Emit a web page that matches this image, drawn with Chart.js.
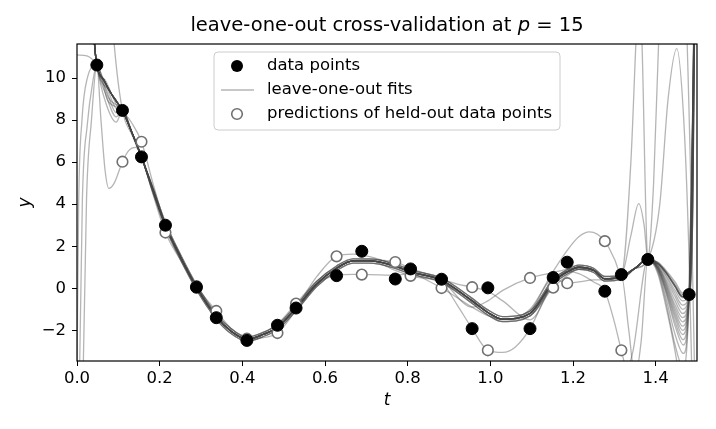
<!DOCTYPE html>
<html>
<head>
<meta charset="utf-8">
<script src="https://cdn.jsdelivr.net/npm/chart.js@4.4.0/dist/chart.umd.min.js"></script>
<style>
  html, body { margin: 0; padding: 0; background: #fff; }
  #wrap { width: 716px; height: 429px; }
</style>
</head>
<body>
<div id="wrap"><canvas id="loo" width="716" height="429"></canvas></div>
<script>
// observed samples
const dataT = [0.048, 0.110, 0.156, 0.214, 0.289, 0.337, 0.411, 0.485, 0.530, 0.628, 0.689, 0.770,
               0.807, 0.882, 0.956, 0.994, 1.096, 1.152, 1.186, 1.277, 1.317, 1.381, 1.481]
const dataY = [10.62, 8.46, 6.25, 3.0, 0.05, -1.40, -2.48, -1.76, -0.94, 0.60, 1.76, 0.44,
               0.92, 0.43, -1.92, 0.02, -1.92, 0.51, 1.24, -0.14, 0.65, 1.37, -0.30]

// predictions of the held-out points (the ones that land inside the view)
const predT = [0.110, 0.156, 0.214, 0.289, 0.337, 0.411, 0.485, 0.530, 0.628, 0.689, 0.770,
               0.807, 0.882, 0.956, 0.994, 1.096, 1.152, 1.186, 1.277, 1.317, 1.381]
const predY = [6.02, 6.97, 2.65, 0.1, -1.08, -2.4, -2.13, -0.73, 1.52, 0.65, 1.25,
               0.59, 0.01, 0.05, -2.95, 0.49, 0.03, 0.24, 2.24, -2.95, 1.37]

const xTicks = [0, 0.2, 0.4, 0.6, 0.8, 1.0, 1.2, 1.4]
const yTicks = [-2, 0, 2, 4, 6, 8, 10]

// the path most of the fits share
const fitT = [0, 0.01, 0.02, 0.03, 0.042, 0.048, 0.065, 0.08, 0.095, 0.110, 0.133, 0.156,
              0.185, 0.214, 0.25, 0.289, 0.337, 0.37, 0.411, 0.45, 0.485, 0.53, 0.58, 0.628,
              0.668, 0.708, 0.77, 0.807, 0.882, 0.956, 0.994, 1.03, 1.096, 1.152, 1.186, 1.214,
              1.25, 1.277, 1.317, 1.35, 1.381, 1.405, 1.423, 1.447, 1.465, 1.481, 1.492, 1.5]
const fitBase = [30, 24, 19, 15.5, 11.7, 10.62, 9.9, 9.35, 8.9, 8.46, 7.4, 6.25,
                 4.6, 3.0, 1.5, 0.05, -1.35, -2.0, -2.42, -2.2, -1.85, -0.95, 0.2, 0.95,
                 1.3, 1.3, 1.05, 0.78, 0.38, -0.6, -1.15, -1.47, -1.2, 0.3, 0.78, 1.0,
                 0.85, 0.45, 0.52, 0.95, 1.37, 1.17, 0.8, 0.1, -0.4, -0.3, 11.6, 25]

// upper and lower edges of the bundle between t = 0.185 and 1.35
const bandT = [0.185, 0.214, 0.25, 0.289, 0.337, 0.37, 0.411, 0.45, 0.485, 0.53, 0.58, 0.628, 0.668,
               0.708, 0.77, 0.807, 0.882, 0.956, 0.994, 1.03, 1.096, 1.152, 1.186, 1.214, 1.25, 1.277,
               1.317, 1.35]
const bandHi = [4.72, 3.12, 1.62, 0.17, -1.23, -1.88, -2.32, -2.1, -1.74, -0.83, 0.32, 1.06, 1.4,
                1.4, 1.15, 0.88, 0.48, -0.48, -1.03, -1.35, -1.08, 0.42, 0.88, 1.1, 0.95, 0.56,
                0.61, 0.95]
const bandLo = [4.48, 2.88, 1.38, -0.07, -1.47, -2.12, -2.52, -2.3, -1.96, -1.07, 0.08, 0.84, 1.2,
                1.2, 0.95, 0.68, 0.28, -0.72, -1.27, -1.59, -1.32, 0.18, 0.68, 0.9, 0.75, 0.34,
                0.43, 0.95]

// pieces where single fits leave the bundle, [t, y]
const pieces = {
  lTop:    [[0, 11.1], [0.024, 11.05], [0.048, 10.62]],
  lRiseA:  [[0, -4], [0.004, 4], [0.012, 8], [0.025, 10], [0.048, 10.62], [0.075, 9.1], [0.110, 8.46]],
  lRiseB:  [[0, -12], [0.013, 4.2], [0.025, 7.8], [0.038, 9.8], [0.048, 10.62], [0.075, 8.9], [0.110, 8.46]],
  lDip:    [[0, -20], [0.023, 4.2], [0.035, 8], [0.048, 10.62], [0.058, 8], [0.068, 5.6], [0.077, 4.75],
            [0.09, 5.0], [0.110, 6.02], [0.125, 6.55], [0.142, 6.7], [0.156, 6.3], [0.185, 4.6]],
  lHigh:   [[0, 30], [0.075, 16], [0.09, 11.6], [0.110, 8.45], [0.133, 7.3], [0.156, 6.2]],
  l156:    [[0.048, 10.62], [0.08, 9.35], [0.110, 8.46], [0.133, 7.85], [0.156, 6.97], [0.185, 4.9], [0.214, 3.0]],
  lFanA:   [[0.048, 10.62], [0.07, 8.8], [0.095, 7.9], [0.110, 8.46]],
  lFanB:   [[0.048, 10.62], [0.07, 9.2], [0.095, 8.15], [0.110, 8.46]],
  lFanC:   [[0.048, 10.62], [0.07, 9.5], [0.095, 8.35], [0.110, 8.46]],
  lFanD:   [[0.048, 10.62], [0.07, 9.7], [0.095, 8.55], [0.110, 8.46]],
  lFanE:   [[0.048, 10.62], [0.07, 9.85], [0.095, 8.75], [0.110, 8.46]],
  m213:    [[0.156, 6.3], [0.185, 4.4], [0.214, 2.65], [0.25, 1.35], [0.289, 0.05]],
  m337:    [[0.289, 0.1], [0.337, -1.08], [0.37, -1.85], [0.411, -2.4]],
  m485:    [[0.411, -2.45], [0.45, -2.35], [0.485, -2.13], [0.53, -1.05], [0.58, 0.15]],
  m530:    [[0.45, -2.15], [0.485, -1.7], [0.53, -0.73], [0.58, 0.35], [0.628, 1.0]],
  m628:    [[0.53, -0.9], [0.58, 0.55], [0.628, 1.52], [0.668, 1.62], [0.708, 1.5], [0.77, 1.1], [0.807, 0.8]],
  m689:    [[0.58, 0.2], [0.628, 0.62], [0.668, 0.66], [0.708, 0.65], [0.77, 0.62], [0.807, 0.7], [0.882, 0.35]],
  m770:    [[0.668, 1.3], [0.708, 1.35], [0.77, 1.25], [0.807, 0.95], [0.882, 0.4]],
  m807:    [[0.708, 1.3], [0.77, 0.85], [0.807, 0.59], [0.882, 0.3], [0.956, -0.6]],
  m882:    [[0.77, 1.0], [0.807, 0.75], [0.882, 0.01], [0.956, -0.9], [0.994, -1.3]],
  m956:    [[0.807, 0.8], [0.882, 0.42], [0.92, 0.2], [0.956, 0.05], [0.994, -0.15], [1.03, -0.6],
            [1.096, -1.5], [1.152, 0.2]],
  m994:    [[0.882, 0.3], [0.92, -0.8], [0.956, -1.92], [0.994, -2.95], [1.03, -3.05], [1.06, -2.8],
            [1.096, -1.92], [1.152, 0.3]],
  m1096:   [[0.882, 0.35], [0.956, -0.9], [0.994, -0.6], [1.03, -0.1], [1.096, 0.49], [1.152, 0.75],
            [1.186, 0.9], [1.214, 0.95]],
  m1152:   [[1.03, -1.5], [1.096, -1.3], [1.152, 0.03], [1.186, 0.6], [1.214, 0.9]],
  m1186:   [[1.096, -1.1], [1.152, 0.45], [1.186, 0.24], [1.214, 0.3], [1.25, 0.4], [1.277, 0.4]],
  m1277:   [[1.096, -1.0], [1.152, 0.8], [1.186, 1.8], [1.214, 2.45], [1.24, 2.68], [1.277, 2.24],
            [1.30, 1.4], [1.317, 0.65], [1.35, 0.95], [1.381, 1.37]],
  m1317:   [[1.186, 0.8], [1.214, 0.7], [1.25, 0.3], [1.277, -0.14], [1.30, -1.6], [1.317, -2.95],
            [1.33, -3.8], [1.345, -3.0], [1.381, 1.37]],
  hi:      bandT.map((t, i) => [t, bandHi[i]]),
  lo:      bandT.map((t, i) => [t, bandLo[i]]),
  rPeak:   [[1.277, 0.45], [1.317, 0.6], [1.34, 2.5], [1.359, 4.03], [1.372, 3.0], [1.381, 1.37]],
  rSpike:  [[1.277, 0.45], [1.317, 0.6], [1.34, 6], [1.352, 11.6], [1.36, 15], [1.367, 11.6], [1.381, 1.37]],
  rHole:   [[1.277, 0.45], [1.317, 0.6], [1.335, -2], [1.35, -4.2], [1.365, -2.5], [1.381, 1.37]],
  rUp:     [[1.381, 1.37], [1.395, 5], [1.407, 11.6], [1.43, 20], [1.47, 15], [1.485, 5], [1.5, -10]],
  rTall:   [[1.381, 1.37], [1.41, 4], [1.43, 9], [1.451, 11.4], [1.468, 8], [1.48, 2], [1.49, -6], [1.5, -20]],
  f0a:     [[1.381, 1.37], [1.405, 1.22], [1.423, 0.85], [1.447, 0.2], [1.465, -0.3], [1.481, -0.3], [1.49, 4], [1.5, 25]],
  f0b:     [[1.381, 1.37], [1.405, 1.18], [1.423, 0.78], [1.447, 0.05], [1.465, -0.45], [1.481, -0.3], [1.49, 4], [1.5, 25]],
  f0c:     [[1.381, 1.37], [1.405, 1.25], [1.423, 0.9], [1.447, 0.3], [1.463, -0.2], [1.481, -0.3], [1.49, 4], [1.5, 25]],
  f1:      [[1.381, 1.37], [1.405, 1.2], [1.423, 0.7], [1.447, -0.1], [1.465, -0.6], [1.481, -0.3], [1.49, 5], [1.5, 25]],
  f1b:     [[1.381, 1.37], [1.405, 1.15], [1.423, 0.62], [1.447, -0.25], [1.465, -0.8], [1.481, -0.3], [1.49, 5], [1.5, 25]],
  f2:      [[1.381, 1.37], [1.405, 1.1], [1.423, 0.5], [1.447, -0.4], [1.465, -1.0], [1.481, -0.3], [1.49, 6], [1.5, 25]],
  f2b:     [[1.381, 1.37], [1.405, 1.08], [1.423, 0.42], [1.447, -0.6], [1.465, -1.2], [1.481, -0.3], [1.49, 6], [1.5, 25]],
  f3:      [[1.381, 1.37], [1.405, 1.05], [1.423, 0.35], [1.447, -0.8], [1.465, -1.4], [1.481, -0.3], [1.49, 6], [1.5, 25]],
  f3b:     [[1.381, 1.37], [1.405, 1.02], [1.423, 0.28], [1.447, -0.95], [1.465, -1.6], [1.481, -0.3], [1.49, 7], [1.5, 25]],
  f4:      [[1.381, 1.37], [1.405, 1.0], [1.423, 0.2], [1.447, -1.1], [1.465, -1.8], [1.481, -0.3], [1.49, 7], [1.5, 25]],
  f4b:     [[1.381, 1.37], [1.405, 0.98], [1.423, 0.12], [1.447, -1.25], [1.465, -2.0], [1.481, -0.3], [1.49, 7], [1.5, 25]],
  f5:      [[1.381, 1.37], [1.405, 0.95], [1.423, 0.05], [1.447, -1.4], [1.465, -2.2], [1.481, -0.3], [1.49, 8], [1.5, 25]],
  f5b:     [[1.381, 1.37], [1.405, 0.92], [1.423, -0.02], [1.447, -1.6], [1.466, -2.45], [1.481, -0.3], [1.49, 8], [1.5, 25]],
  f6:      [[1.381, 1.37], [1.405, 0.9], [1.423, -0.1], [1.447, -1.8], [1.467, -2.7], [1.481, -0.3], [1.49, 8], [1.5, 25]],
  f7:      [[1.381, 1.37], [1.405, 0.85], [1.423, -0.3], [1.447, -2.2], [1.467, -3.1], [1.481, -0.3], [1.49, 9], [1.5, 25]],
  f8:      [[1.381, 1.37], [1.405, 0.8], [1.423, -0.5], [1.447, -2.7], [1.467, -3.8], [1.481, -0.3], [1.49, 9], [1.5, 25]],
  f9:      [[1.381, 1.37], [1.405, 0.7], [1.423, -0.7], [1.447, -3], [1.47, -6], [1.5, -12]]
}

// one entry per leave-one-out fit: which pieces it takes instead of the bundle
const fitParts = [
  ['lTop', 'm213', 'f1'], ['lRiseA', 'm337', 'f2'], ['lRiseB', 'm485', 'f3'],
  ['lDip', 'm530', 'f4'], ['lHigh', 'm628', 'f5'], ['l156', 'm689', 'f6'],
  ['lFanA', 'm770', 'f7'], ['lFanB', 'm807', 'f8'], ['lFanC', 'm882', 'f9'],
  ['lFanD', 'm956', 'rPeak'], ['lFanE', 'm994', 'rSpike'], ['m1096', 'rHole'],
  ['m1152', 'rUp'], ['m1186', 'rTall'], ['m1277', 'f0a'], ['m1317', 'f0b'],
  ['hi', 'f0c'], ['lo', 'f2b'], ['hi', 'f3b'], [], ['lo', 'f1b'], ['hi', 'f4b'], ['lo', 'f5b']
]

function buildFit(names) {
  const segs = names.map(n => pieces[n])
  let pts = []
  fitT.forEach((t, i) => {
    const covered = segs.some(s => t >= s[0][0] && t <= s[s.length - 1][0])
    if (!covered) pts.push({x: t, y: fitBase[i]})
  })
  segs.forEach(s => s.forEach(p => pts.push({x: p[0], y: p[1]})))
  pts.sort((a, b) => a.x - b.x)
  return pts.filter((p, i) => i === 0 || p.x !== pts[i - 1].x)
}

const FONT = "'DejaVu Sans', sans-serif"
const FIT_COLOR = 'rgba(70,70,70,0.4)'

const fitSets = fitParts.map(names => ({
  type: 'line',
  data: buildFit(names),
  borderColor: FIT_COLOR,
  borderWidth: 1.3,
  pointRadius: 0,
  fill: false,
  cubicInterpolationMode: 'monotone'
}))

const framePlugin = {
  id: 'frame',
  afterDatasetsDraw(chart) {
    const {ctx, chartArea: a} = chart
    ctx.save()
    ctx.strokeStyle = '#000'
    ctx.lineWidth = 1.2
    ctx.strokeRect(a.left, a.top, a.right - a.left, a.bottom - a.top)

    // legend box
    const bx = 214, by = 52, bw = 346, bh = 78, r = 4
    ctx.beginPath()
    ctx.moveTo(bx + r, by)
    ctx.arcTo(bx + bw, by, bx + bw, by + bh, r)
    ctx.arcTo(bx + bw, by + bh, bx, by + bh, r)
    ctx.arcTo(bx, by + bh, bx, by, r)
    ctx.arcTo(bx, by, bx + bw, by, r)
    ctx.closePath()
    ctx.fillStyle = 'rgba(255,255,255,0.8)'
    ctx.fill()
    ctx.strokeStyle = '#cccccc'
    ctx.lineWidth = 1
    ctx.stroke()

    const rows = [66, 90, 114]
    ctx.fillStyle = '#000'
    ctx.beginPath(); ctx.arc(237, rows[0], 6, 0, Math.PI * 2); ctx.fill()
    ctx.strokeStyle = FIT_COLOR
    ctx.lineWidth = 1.3
    ctx.beginPath(); ctx.moveTo(221, rows[1]); ctx.lineTo(254, rows[1]); ctx.stroke()
    ctx.strokeStyle = '#707070'
    ctx.lineWidth = 1.6
    ctx.fillStyle = '#fff'
    ctx.beginPath(); ctx.arc(237, rows[2], 5.3, 0, Math.PI * 2); ctx.fill(); ctx.stroke()

    ctx.fillStyle = '#000'
    ctx.font = '16.5px ' + FONT
    ctx.textBaseline = 'middle'
    ctx.textAlign = 'left'
    ctx.fillText('data points', 267, rows[0])
    ctx.fillText('leave-one-out fits', 267, rows[1])
    ctx.fillText('predictions of held-out data points', 267, rows[2])
    ctx.restore()
  },
  afterDraw(chart) {
    const {ctx, chartArea: a} = chart
    const parts = [
      ['leave-one-out cross-validation at ', 'normal'],
      ['p', 'italic'],
      [' = 15', 'normal']
    ]
    ctx.save()
    ctx.fillStyle = '#000'
    ctx.textBaseline = 'middle'
    ctx.textAlign = 'left'
    let total = 0
    parts.forEach(p => { ctx.font = p[1] + ' 19.5px ' + FONT; total += ctx.measureText(p[0]).width })
    let x = (a.left + a.right) / 2 - total / 2
    parts.forEach(p => {
      ctx.font = p[1] + ' 19.5px ' + FONT
      ctx.fillText(p[0], x, 26)
      x += ctx.measureText(p[0]).width
    })
    ctx.restore()
  }
}

new Chart(document.getElementById('loo'), {
  data: {
    datasets: [
      {
        type: 'scatter',
        label: 'data points',
        data: dataT.map((t, i) => ({x: t, y: dataY[i]})),
        backgroundColor: '#000',
        borderColor: '#000',
        pointRadius: 6,
        pointHoverRadius: 6
      },
      {
        type: 'scatter',
        label: 'predictions of held-out data points',
        data: predT.map((t, i) => ({x: t, y: predY[i]})),
        backgroundColor: '#fff',
        borderColor: '#707070',
        borderWidth: 1.6,
        pointRadius: 5.3,
        pointHoverRadius: 5.3
      },
      ...fitSets
    ]
  },
  options: {
    responsive: false,
    animation: false,
    devicePixelRatio: 1,
    layout: {padding: {left: 0, right: 19, top: 44, bottom: 0}},
    elements: {line: {capBezierPoints: false}},
    plugins: {
      legend: {display: false},
      tooltip: {enabled: false},
      title: {display: false}
    },
    scales: {
      x: {
        type: 'linear',
        min: 0,
        max: 1.5,
        afterBuildTicks: s => { s.ticks = xTicks.map(v => ({value: v})) },
        afterFit: s => { s.height = 68 },
        ticks: {
          color: '#000',
          font: {family: FONT, size: 16.5},
          padding: 3,
          maxRotation: 0,
          callback: v => v.toFixed(1)
        },
        grid: {display: true, drawOnChartArea: false, drawTicks: true, tickLength: 5, color: '#000'},
        border: {display: false},
        title: {display: true, text: 't', color: '#000', font: {family: FONT, size: 17, style: 'italic'}, padding: {top: 0, bottom: 18}}
      },
      y: {
        type: 'linear',
        min: -3.46,
        max: 11.62,
        afterBuildTicks: s => { s.ticks = yTicks.map(v => ({value: v})) },
        afterFit: s => { s.width = 77 },
        ticks: {
          color: '#000',
          font: {family: FONT, size: 16.5},
          padding: 6,
          callback: v => v < 0 ? '\u2212' + Math.abs(v) : String(v)
        },
        grid: {display: true, drawOnChartArea: false, drawTicks: true, tickLength: 5, color: '#000'},
        border: {display: false},
        title: {display: true, text: 'y', color: '#000', font: {family: FONT, size: 17, style: 'italic'}, padding: {top: 15, bottom: 0}}
      }
    }
  },
  plugins: [framePlugin]
})
</script>
</body>
</html>
